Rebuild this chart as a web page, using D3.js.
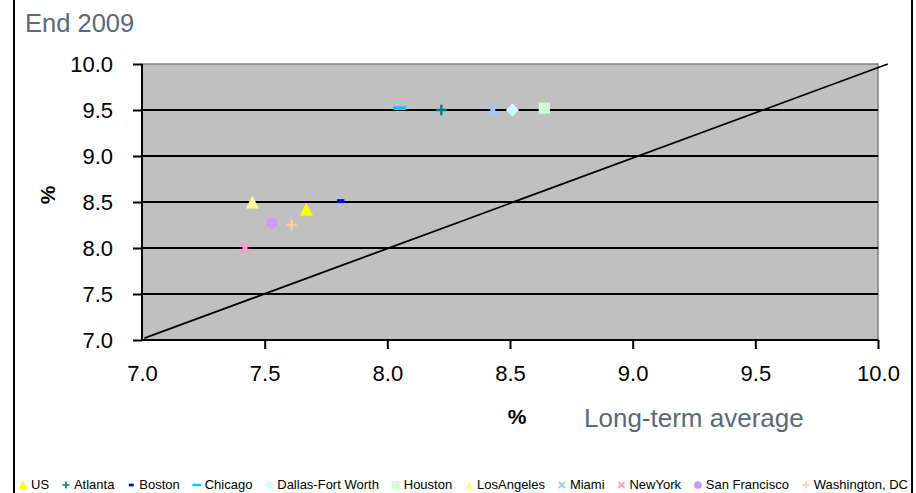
<!DOCTYPE html>
<html>
<head>
<meta charset="utf-8">
<script src="https://cdn.jsdelivr.net/npm/d3@7"></script>
<style>
  body { margin: 0; background: #fff; }
  svg { display: block; font-family: "Liberation Sans", Arial, sans-serif; }
</style>
</head>
<body>
<div id="chart"></div>
<script>
var w = 916;
var h = 493;

var margin = { top: 64, right: 38, bottom: 153, left: 142 };
var width = w - margin.left - margin.right;
var height = h - margin.top - margin.bottom;

// data
var cities = ["US", "Atlanta", "Boston", "Chicago", "Dallas-Fort Worth", "Houston",
  "LosAngeles", "Miami", "NewYork", "San Francisco", "Washington, DC"];
var longTerm = [7.67, 8.22, 7.81, 8.05, 8.51, 8.64, 7.45, 8.43, 7.42, 7.53, 7.61];
var end2009 = [8.42, 9.50, 8.51, 9.52, 9.50, 9.52, 8.50, 9.50, 8.00, 8.27, 8.25];
var colors = ["#ffff00", "#008080", "#0000ff", "#00ccff", "#ccffff", "#ccffcc",
  "#ffff99", "#99ccff", "#ff99cc", "#cc99ff", "#ffcc99"];
var shapes = ["triangle", "plus", "dashS", "dash", "diamond", "square",
  "triangle", "x", "x", "circle", "plus"];
var xTicks = [7.0, 7.5, 8.0, 8.5, 9.0, 9.5, 10.0];
var yTicks = [7.0, 7.5, 8.0, 8.5, 9.0, 9.5, 10.0];
var diagonal = [[7.01, 7.02], [10.04, 10.0]];

var data = cities.map(function (c, i) {
  return { name: c, x: longTerm[i], y: end2009[i], color: colors[i], shape: shapes[i] };
});

var x = d3.scaleLinear().domain([7, 10]).range([0, width]);
var y = d3.scaleLinear().domain([7, 10]).range([height, 0]);

var svg = d3.select("#chart").append("svg")
  .attr("width", w)
  .attr("height", h);

// outer frame (only sides visible)
svg.append("rect")
  .attr("x", 14).attr("y", -3)
  .attr("width", 898).attr("height", h + 6)
  .attr("fill", "none").attr("stroke", "#000").attr("stroke-width", 2);

svg.append("text")
  .attr("x", 25).attr("y", 32)
  .style("font-size", "25.5px").style("fill", "#586a7c")
  .text("End 2009");

var chart = svg.append("g").attr("transform", "translate(" + margin.left + "," + margin.top + ")");

chart.append("rect")
  .attr("width", width).attr("height", height)
  .attr("fill", "#c0c0c0").attr("stroke", "#808080").attr("stroke-width", 1.5);

chart.selectAll(".grid")
  .data(yTicks.filter(function (d) { return d > 7 && d < 10; }))
  .join("line")
  .attr("x1", 0).attr("x2", width)
  .attr("y1", function (d) { return y(d); })
  .attr("y2", function (d) { return y(d); })
  .attr("stroke", "#000").attr("stroke-width", 2);

// axes
var yAxis = chart.append("g")
  .call(d3.axisLeft(y).tickValues(yTicks).tickFormat(d3.format(".1f")).tickSize(9).tickPadding(20));
var xAxis = chart.append("g")
  .attr("transform", "translate(0," + height + ")")
  .call(d3.axisBottom(x).tickValues(xTicks).tickFormat(d3.format(".1f")).tickSize(9).tickPadding(16));

[yAxis, xAxis].forEach(function (a) {
  a.select(".domain").attr("stroke", "#000").attr("stroke-width", 2);
  a.selectAll(".tick line").attr("stroke", "#000").attr("stroke-width", 2);
  a.selectAll(".tick text")
    .style("font-size", "22px")
    .style("font-family", "'Liberation Sans', Arial, sans-serif")
    .attr("fill", "#000");
});
xAxis.select(".domain").attr("d", "M0,0H" + width);
yAxis.select(".domain").attr("d", "M0,0V" + height);
xAxis.selectAll(".tick").filter(function (d) { return d === 7; }).select("line").remove();

// diagonal
chart.append("path")
  .datum(diagonal)
  .attr("d", d3.line().x(function (d) { return x(d[0]); }).y(function (d) { return y(d[1]); }))
  .attr("fill", "none").attr("stroke", "#000").attr("stroke-width", 1.8);

function drawMarker(g, shape, color, s) {
  if (shape === "triangle") {
    g.append("path").attr("d", "M0," + (-s / 2) + "L" + (s / 2) + "," + (s / 2) + "L" + (-s / 2) + "," + (s / 2) + "Z")
      .attr("fill", color);
  } else if (shape === "square") {
    g.append("rect").attr("x", -s * 0.43).attr("y", -s * 0.43).attr("width", s * 0.86).attr("height", s * 0.86).attr("fill", color);
  } else if (shape === "diamond") {
    g.append("path").attr("d", "M0," + (-s / 2) + "L" + (s / 2) + ",0L0," + (s / 2) + "L" + (-s / 2) + ",0Z").attr("fill", color);
  } else if (shape === "circle") {
    g.append("circle").attr("r", s * 0.43).attr("fill", color);
  } else if (shape === "dash") {
    g.append("rect").attr("x", -s / 2).attr("y", -s * 0.15).attr("width", s).attr("height", s * 0.3).attr("rx", 1).attr("fill", color);
  } else if (shape === "dashS") {
    g.append("rect").attr("x", -s * 0.28).attr("y", -s * 0.15).attr("width", s * 0.56).attr("height", s * 0.3).attr("fill", color);
  } else if (shape === "plus") {
    g.append("path").attr("d", "M" + (-s * 0.4) + ",0H" + (s * 0.4) + "M0," + (-s * 0.4) + "V" + (s * 0.4))
      .attr("stroke", color).attr("stroke-width", Math.max(1.5, s * 0.18));
  } else if (shape === "x") {
    g.append("path").attr("d", "M" + (-s * 0.35) + "," + (-s * 0.35) + "L" + (s * 0.35) + "," + (s * 0.35) +
      "M" + (-s * 0.35) + "," + (s * 0.35) + "L" + (s * 0.35) + "," + (-s * 0.35))
      .attr("stroke", color).attr("stroke-width", Math.max(1.5, s * 0.22));
  }
}

chart.selectAll(".pt")
  .data(data)
  .join("g")
  .attr("class", "pt")
  .attr("transform", function (d) { return "translate(" + x(d.x) + "," + y(d.y) + ")"; })
  .each(function (d) { drawMarker(d3.select(this), d.shape, d.color, 13); });

// axis titles
svg.append("text")
  .attr("transform", "translate(55,195) rotate(-90)")
  .attr("text-anchor", "middle")
  .style("font-size", "21px").style("font-weight", "bold")
  .text("%");

svg.append("text")
  .attr("x", 517).attr("y", 424)
  .attr("text-anchor", "middle")
  .style("font-size", "21px").style("font-weight", "bold")
  .text("%");

svg.append("text")
  .attr("x", 584).attr("y", 427)
  .style("font-size", "26px").style("fill", "#586a7c")
  .text("Long-term average");

// legend
var legend = svg.append("g");
var items = legend.selectAll(".leg")
  .data(data)
  .join("g")
  .attr("class", "leg");
items.each(function (d) { drawMarker(d3.select(this).append("g").attr("transform", "translate(0,-4)"), d.shape, d.color, 9); });
items.append("text")
  .attr("x", 8).attr("y", 0)
  .style("font-size", "13px")
  .text(function (d) { return d.name; });

var widths = [];
items.select("text").each(function () { widths.push(this.getComputedTextLength() + 8); });
var startX = 23, endX = 908;
var total = d3.sum(widths);
var gap = (endX - startX - total) / (widths.length - 1);
var cx = startX;
items.attr("transform", function (d, i) {
  var t = "translate(" + cx + ",489)";
  cx += widths[i] + gap;
  return t;
});
</script>
</body>
</html>
